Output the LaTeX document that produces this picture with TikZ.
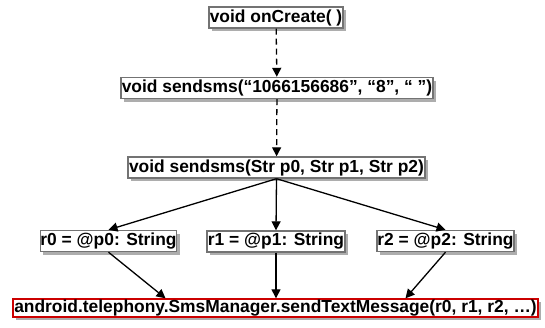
\documentclass[tikz,border=0pt]{standalone}
\usepackage{fontspec}
\setmainfont{Liberation Sans}
\usetikzlibrary{arrows.meta,shadows,calc}
\tikzset{
  box/.style={draw=black!55, line width=1.4pt, fill=white, inner sep=0pt, minimum height=21pt,
    font=\fontsize{17.4}{17.4}\selectfont\bfseries,
    drop shadow={shadow xshift=3pt, shadow yshift=-3pt, fill=black!32, opacity=1}},
  redbox/.style={box, draw=red!80!black, minimum height=18pt},
  conn/.style={line width=1.3pt, -{Triangle[length=9pt,width=9pt]}},
  dconn/.style={conn, dash pattern=on 6pt off 4pt}
}
\begin{document}
\begin{tikzpicture}[x=1pt,y=-1pt]
\useasboundingbox (0,0) rectangle (545,327);
\node[box, minimum width=134pt] (oc) at (276,17.5) {void onCreate( )};
\node[box, minimum width=312pt] (s1) at (277,88) {void sendsms(“1066156686”, “8”, “ ”)};
\node[box, minimum width=297pt] (s2) at (276.5,167.5) {void sendsms(Str p0, Str p1, Str p2)};
\node[box, minimum width=135pt] (r0) at (108.5,241) {r0 = @p0: String};
\node[box, minimum width=138pt] (r1) at (276,241.5) {r1 = @p1: String};
\node[box, minimum width=137pt] (r2) at (445.5,241) {r2 = @p2: String};
\node[redbox, minimum width=525pt] (bot) at (275.5,308) {android.telephony.SmsManager.sendTextMessage(r0, r1, r2, …)};
\coordinate (e0) at ($(bot.north)+(-110,0)$);
\coordinate (e2) at ($(bot.north)+(130,0)$);
\draw[dconn] (oc) -- (s1);
\draw[dconn] (s1) -- (s2);
\draw[conn] (s2.south) -- (r0.north);
\draw[conn] (s2.south) -- (r1.north);
\draw[conn] (s2.south) -- (r2.north);
\draw[conn] (r0.south) -- (e0);
\draw[conn] (r1.south) -- (r1.south |- bot.north);
\draw[conn] (r2.south) -- (e2);
\end{tikzpicture}
\end{document}
